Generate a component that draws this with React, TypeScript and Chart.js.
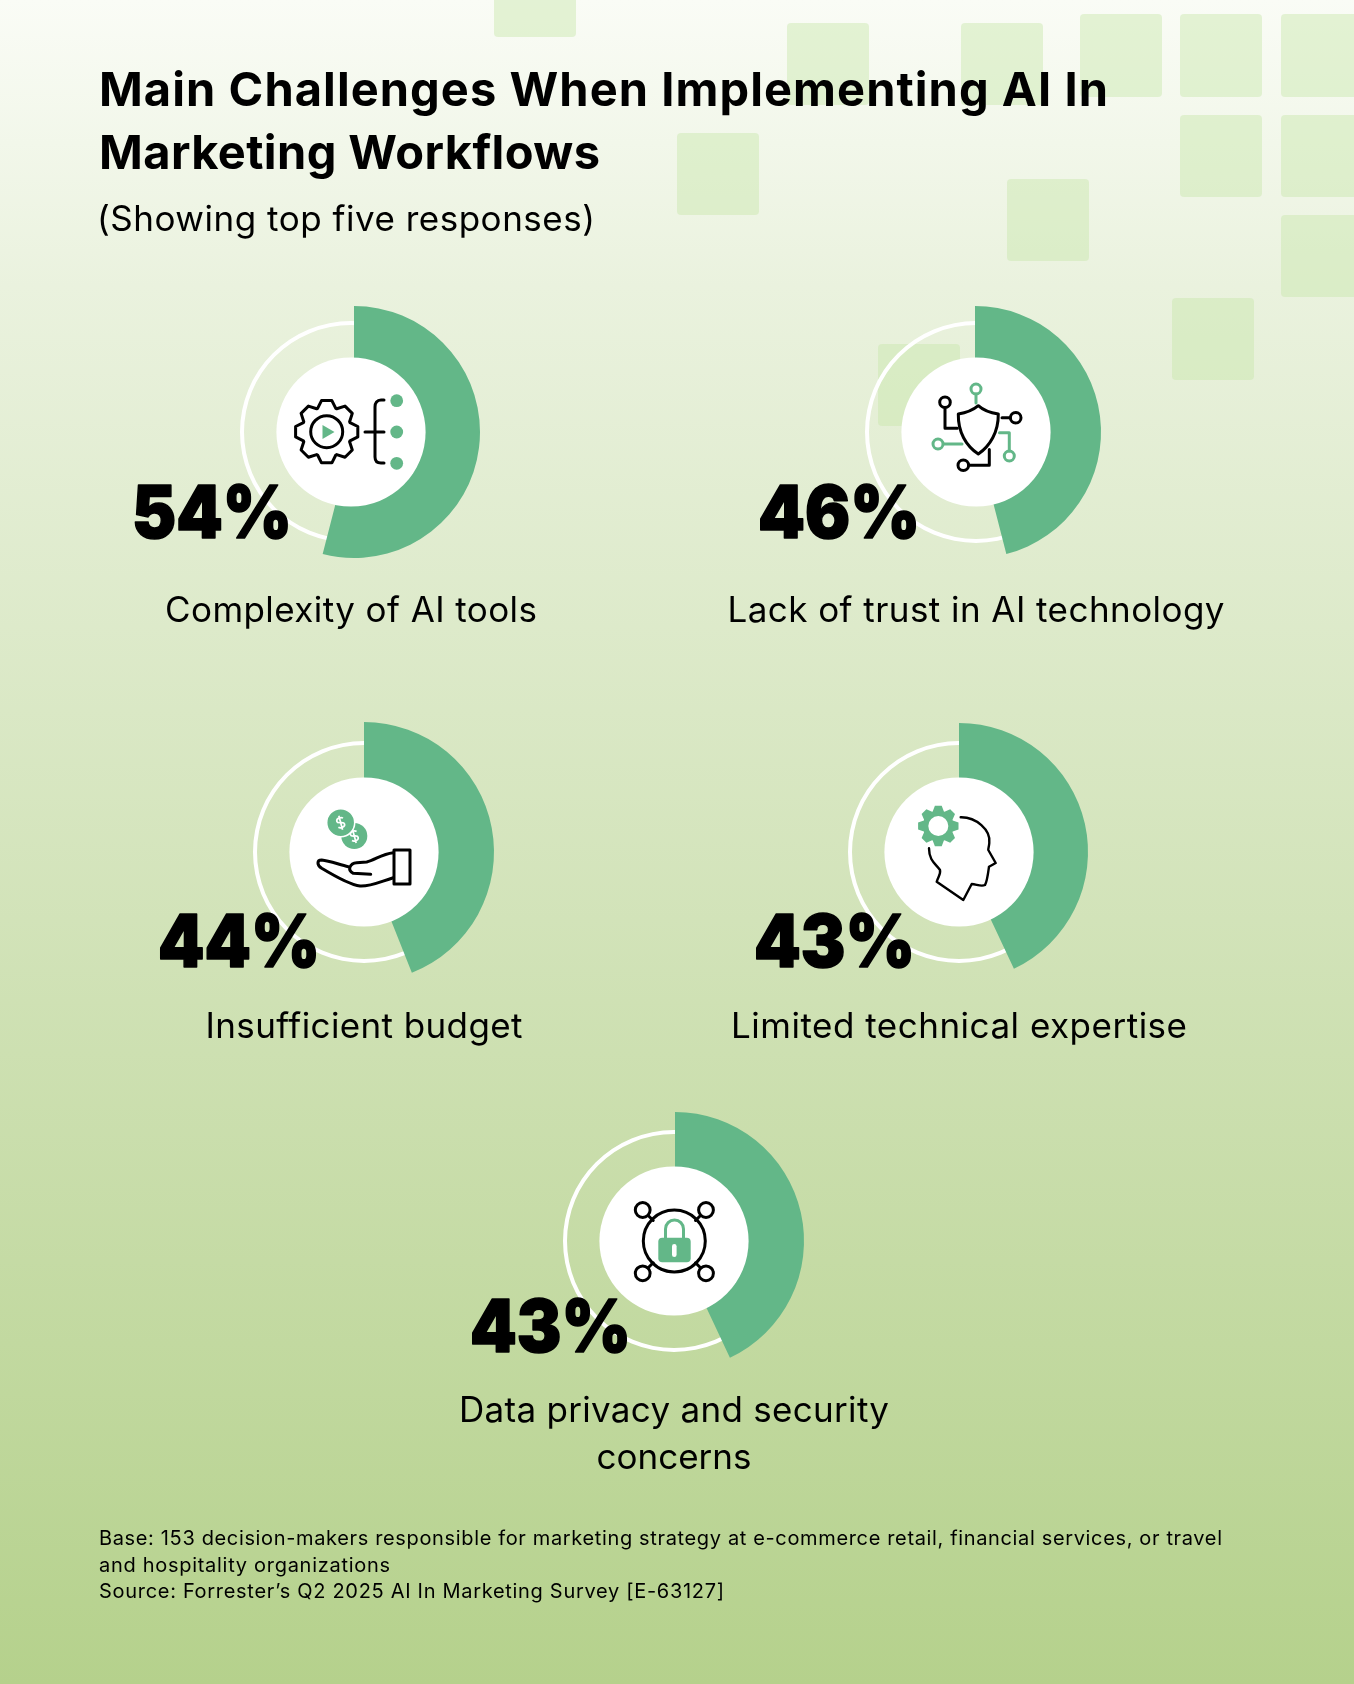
import React, { useEffect, useRef } from 'react';
import Chart from 'chart.js/auto';

const categories = [
    ['Complexity of AI tools'],
    ['Lack of trust in AI technology'],
    ['Insufficient budget'],
    ['Limited technical expertise'],
    ['Data privacy and security', 'concerns'],
];
const values = [54, 46, 44, 43, 43];

// page layout, one row per donut
const hubX = [351, 976, 364, 959, 674];
const hubY = [432, 432, 852, 852, 1241];
const wedgeX = [354, 975, 364, 959, 675];
const wedgeR = [126, 126, 130, 129, 129];
const valueX = [132, 758, 158, 754, 470];
const valueY = [538, 538, 967, 967, 1352];
const valueW = [160, 162, 162, 161, 161];
const labelY = [622, 622, 1038, 1038, 1422];
const labelW = [[372], [497], [317], [456], [430, 155]];

// background squares: x, y, w, h
const squares = [
    [494, -46, 82, 83], [787, 23, 82, 82], [961, 23, 82, 82], [1080, 14, 82, 83],
    [1180, 14, 82, 83], [1281, 14, 82, 83], [1180, 115, 82, 82], [1281, 115, 82, 82],
    [677, 133, 82, 82], [1007, 179, 82, 82], [1281, 215, 82, 82], [1172, 298, 82, 82],
    [878, 344, 82, 82],
];

const titleLines = ['Main Challenges When Implementing AI In', 'Marketing Workflows'];
const titleW = [1009, 501];
const subtitle = '(Showing top five responses)';
const footnotes = [
    'Base: 153 decision-makers responsible for marketing strategy at e-commerce retail, financial services, or travel',
    'and hospitality organizations',
    'Source: Forrester\u2019s Q2 2025 AI In Marketing Survey [E-63127]',
];
const footnoteW = [1123, 291, 625];

const GREEN = '#63b788';
const CANVAS = 300;

const Donut: React.FC<{ index: number }> = ({ index }) => {
    const ringRef = useRef<HTMLCanvasElement | null>(null);
    const wedgeRef = useRef<HTMLCanvasElement | null>(null);

    useEffect(() => {
        const value = values[index];
        const base = {
            responsive: false,
            animation: false as const,
            events: [],
            plugins: { legend: { display: false }, tooltip: { enabled: false } },
        };
        const ring = new Chart(ringRef.current!, {
            type: 'doughnut',
            data: {
                labels: ['All respondents'],
                datasets: [{ data: [100], backgroundColor: ['#ffffff'], borderWidth: 0 }],
            },
            options: { ...base, cutout: 107, layout: { padding: CANVAS / 2 - 111 } },
        });
        const wedge = new Chart(wedgeRef.current!, {
            type: 'doughnut',
            data: {
                labels: categories[index],
                datasets: [{
                    data: [value, 100 - value],
                    backgroundColor: [GREEN, 'rgba(0,0,0,0)'],
                    borderWidth: 0,
                }],
            },
            options: { ...base, cutout: 62, layout: { padding: CANVAS / 2 - wedgeR[index] } },
        });
        return () => {
            ring.destroy();
            wedge.destroy();
        };
    }, [index]);

    const place = (cx: number, cy: number): React.CSSProperties => ({
        position: 'absolute',
        left: cx - CANVAS / 2,
        top: cy - CANVAS / 2,
        width: CANVAS,
        height: CANVAS,
    });

    return (
        <>
            <canvas ref={ringRef} width={CANVAS} height={CANVAS} style={place(hubX[index], hubY[index])} />
            <canvas ref={wedgeRef} width={CANVAS} height={CANVAS} style={place(wedgeX[index], hubY[index])} />
        </>
    );
};

// outline of a cog wheel around cx, cy
const gearPath = (cx: number, cy: number, inner: number, outer: number, teeth = 8) => {
    const pts: string[] = [];
    for (let i = 0; i < teeth; i++) {
        const a = (i / teeth) * Math.PI * 2 - Math.PI / 2;
        const w = Math.PI / teeth;
        [[a - w * 0.95, inner], [a - w * 0.42, outer], [a + w * 0.42, outer], [a + w * 0.95, inner]].forEach(([t, r]) => {
            pts.push(`${(cx + Math.cos(t) * r).toFixed(1)} ${(cy + Math.sin(t) * r).toFixed(1)}`);
        });
    }
    return `M${pts.join(' L')} Z`;
};

const line = { fill: 'none', stroke: '#000', strokeWidth: 3, strokeLinejoin: 'round' as const, strokeLinecap: 'round' as const };
const greenLine = { ...line, stroke: GREEN };
const dollar = 'M4 -4.5 C2 -6.5 -4 -6.5 -4 -2.5 C-4 1 4 -1 4 2.5 C4 6.5 -2 6.5 -4 4.5 M0 -8.5 V8.5';

const Icons: React.FC = () => (
    <>
        {/* gear and tree */}
        <path d={gearPath(326.7, 431.7, 25, 31.5)} {...line} />
        <circle cx={326.7} cy={431.7} r={16} {...line} />
        <path d="M322.5 425 L322.5 439 L334.5 432 Z" fill={GREEN} />
        <path d="M384 400 H381 C377 400 375 403 375 407 V457 C375 461 377 463 381 463 H384 M365 432 H384" {...line} />
        {[400.7, 432, 463.3].map((y) => <circle key={y} cx={396.7} cy={y} r={6.4} fill={GREEN} />)}

        {/* shield and circuit */}
        <path d="M978.3 405.7 C972 411 965 413 958.3 414 C958 432 966 446 978.3 454 C990 446 998.5 432 998.3 414 C991 413 984 411 978.3 405.7 Z" {...line} />
        <circle cx={945} cy={402.3} r={5.3} {...line} />
        <path d="M945 408 V428.3 H957.3" {...line} />
        <circle cx={1015.7} cy={417.7} r={5.3} {...line} />
        <path d="M1002 417.7 H1010" {...line} />
        <circle cx={963.3} cy={465.3} r={5.3} {...line} />
        <path d="M969 465.3 H989.3 V449.5" {...line} />
        <circle cx={976} cy={389} r={5} {...greenLine} />
        <path d="M976 394 V403" {...greenLine} />
        <circle cx={938} cy={444} r={5} {...greenLine} />
        <path d="M943.5 444 H962" {...greenLine} />
        <circle cx={1009.3} cy={456} r={5} {...greenLine} />
        <path d="M999.5 432.7 H1009.3 V451" {...greenLine} />

        {/* coins over a hand */}
        <circle cx={354.3} cy={836} r={13} fill={GREEN} />
        <path d={dollar} transform="translate(354.3 836) rotate(-15) scale(0.85)" fill="none" stroke="#fff" strokeWidth={2} />
        <circle cx={340.7} cy={822.7} r={14} fill={GREEN} stroke="#fff" strokeWidth={1.5} />
        <path d={dollar} transform="translate(340.7 822.7) rotate(-15) scale(0.85)" fill="none" stroke="#fff" strokeWidth={2} />
        <rect x={394} y={850} width={16} height={34} {...line} />
        <path d="M393.3 852.7 C381.7 854 375 860 366.7 862 L356.7 862.7 C350 863.3 346.7 870 353.3 873.3 L370.7 874.3" {...line} />
        <path d="M393.3 877.7 C380 881.7 370 886.7 360 886 C350 885 330 873.3 321.7 868.3 C316.7 865 316.7 860 321.7 860 C330 860.7 340 865 348.3 866.7" {...line} />

        {/* head with a cog */}
        <path d={gearPath(938.3, 826, 15.5, 20.5)} fill={GREEN} />
        <circle cx={938.3} cy={826} r={10} fill="#fff" />
        <path d="M960.7 817.3 C976 817 991 830 989.3 843 C989 847 988 849 988.3 850 L995.7 863 L989 866.7 C988 874 987 882 985 885 C981 887 976 884 971.7 884 L963.3 900 L936.7 881.7 C938 877 941 874 940 870 C936 864 929 861 929 848.3" {...line} strokeWidth={2.4} />

        {/* padlock in a network */}
        <circle cx={674.3} cy={1241} r={31} {...line} />
        {[[642.7, 1210, 1], [706, 1210, -1], [642.7, 1273.3, -1], [706, 1273.3, 1]].map(([x, y, s]) => {
            const dy = y < 1241 ? 1 : -1;
            const dx = dy * s;
            return (
                <g key={`${x}-${y}`}>
                    <circle cx={x} cy={y} r={7.4} {...line} />
                    <path d={`M${x + dx * 5.5} ${y + dy * 5.5} L${x + dx * 10.5} ${y + dy * 10.5}`} {...line} />
                </g>
            );
        })}
        <path d="M665.5 1238 V1229 A9 9 0 0 1 683.5 1229 V1238" {...greenLine} strokeWidth={3} />
        <rect x={658.3} y={1237.7} width={32.4} height={24.6} rx={4} fill={GREEN} />
        <rect x={672} y={1244} width={4.6} height={13} rx={2.3} fill="#fff" />
    </>
);

const App: React.FC = () => (
    <div
        style={{
            position: 'absolute',
            left: 0,
            top: 0,
            width: 1354,
            height: 1684,
            overflow: 'hidden',
            background: 'linear-gradient(180deg, #fafcf6 0%, #eaf2de 17%, #b5d18c 100%)',
        }}
    >
        {squares.map(([x, y, w, h]) => (
            <div
                key={`${x}-${y}`}
                style={{ position: 'absolute', left: x, top: y, width: w, height: h, borderRadius: 4, background: 'rgba(200,230,170,0.45)' }}
            />
        ))}
        {values.map((_, i) => <Donut key={i} index={i} />)}
        <svg width={1354} height={1684} style={{ position: 'absolute', left: 0, top: 0, fontVariantLigatures: 'none' }} fontFamily="Inter, sans-serif">
            {values.map((_, i) => <circle key={i} cx={hubX[i]} cy={hubY[i]} r={74.6} fill="#fff" />)}
            <Icons />
            <g fontWeight={700} fontSize={47} fill="#000">
                {titleLines.map((t, i) => <text key={t} x={99} y={106 + i * 63} textLength={titleW[i]}>{t}</text>)}
            </g>
            <text x={97} y={231} fontSize={35} textLength={498}>{subtitle}</text>
            {values.map((v, i) => (
                <text key={i} x={valueX[i]} y={valueY[i]} fontSize={73} fontWeight={900} fill="#000" stroke="#000" strokeWidth={1.6} strokeLinejoin="round" textLength={valueW[i]} lengthAdjust="spacingAndGlyphs">{v}%</text>
            ))}
            {categories.map((lines, i) => lines.map((t, j) => (
                <text key={t} x={hubX[i]} y={labelY[i] + j * 47} fontSize={35} textAnchor="middle" fill="#000" textLength={labelW[i][j]}>{t}</text>
            )))}
            {footnotes.map((t, i) => <text key={t} x={99} y={1545 + i * 26.5} fontSize={20} fill="#000" textLength={footnoteW[i]}>{t}</text>)}
        </svg>
    </div>
);

export default App;
